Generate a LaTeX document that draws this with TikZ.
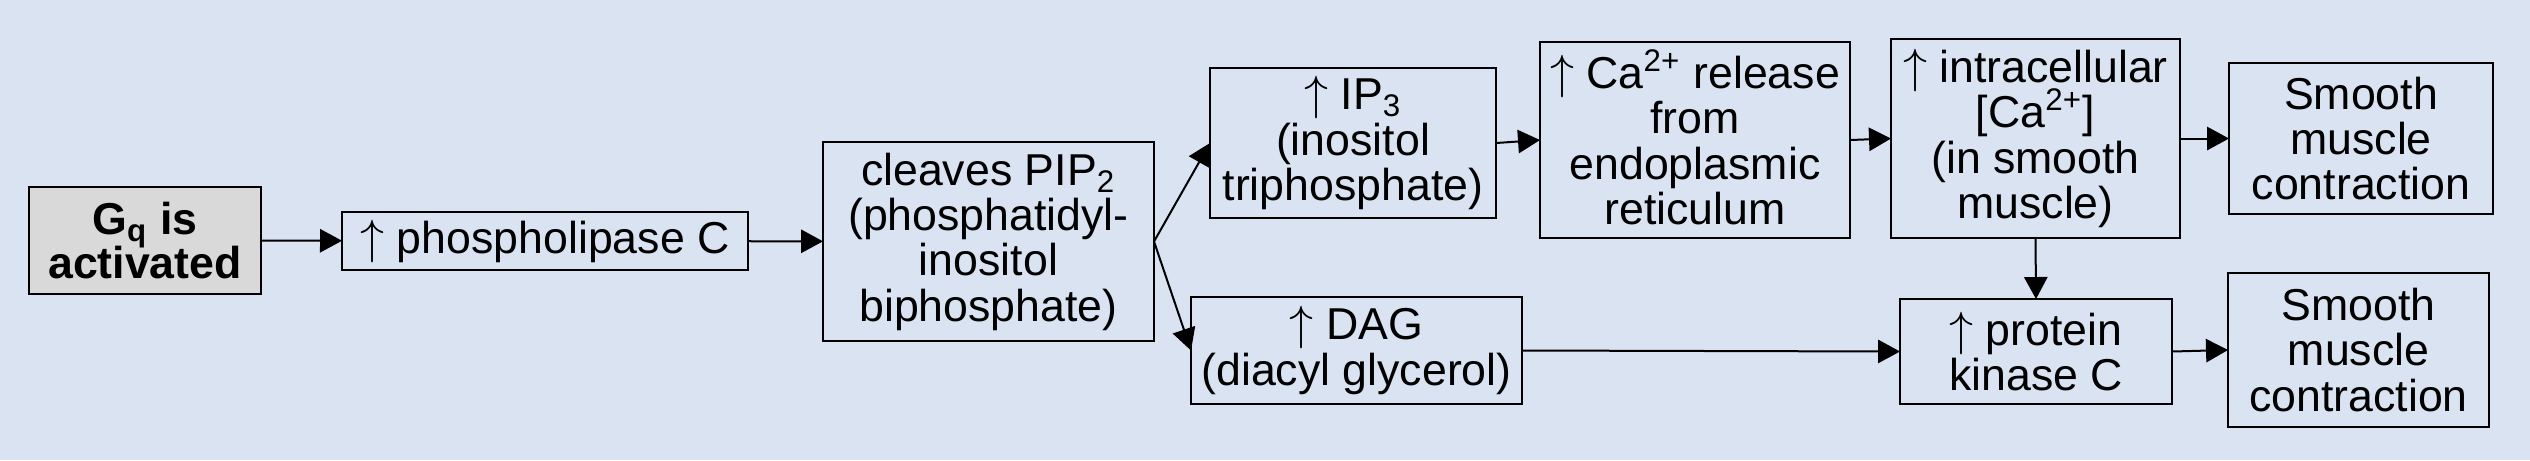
\documentclass[tikz,border=0pt]{standalone}
\usepackage{fontspec}
\setmainfont{Liberation Sans}
\usetikzlibrary{arrows.meta}
\definecolor{bg}{HTML}{D9E3F1}
\definecolor{gqfill}{HTML}{D9D9D9}
\newcommand\upar{$\uparrow$}
\newcommand\supr[1]{\smash{\textsuperscript{#1}}}
\newcommand\subr[1]{\smash{\textsubscript{#1}}}
\begin{document}
\begin{tikzpicture}[x=0.3pt,y=-0.3pt,
  box/.style={draw=black, line width=0.8pt, inner sep=0pt, outer sep=0pt, align=center,
    font=\fontsize{13.4pt}{13.6pt}\selectfont},
  conn/.style={line width=0.6pt, -{Triangle[length=6.6pt,width=7pt]}}]
\fill[bg] (0,0) rectangle (2530,460);
\useasboundingbox (0,0) rectangle (2530,460);
\node[box, fill=gqfill, minimum width=69.6pt, minimum height=32.1pt,
  font=\bfseries\fontsize{13.4pt}{13.2pt}\selectfont] (gq) at (145,240.5) {G\subr{q} is\\activated};
\node[box, minimum width=121.8pt, minimum height=17.4pt] (plc) at (545,241) {\upar{} phospholipase C};
\node[box, minimum width=99.3pt, minimum height=59.7pt] (pip) at (988.5,241.5)
  {cleaves PIP\subr{2}\\(phosphatidyl-\\inositol\\biphosphate)};
\node[box, minimum width=85.8pt, minimum height=45pt] (ip3) at (1353,143)
  {\upar{} IP\subr{3}\\(inositol\\triphosphate)};
\node[box, minimum width=99.3pt, minimum height=32.1pt] (dag) at (1356.5,350.5)
  {\upar{} DAG\\(diacyl glycerol)};
\node[box, minimum width=93pt, minimum height=58.8pt] (ca) at (1695,140)
  {\upar{} Ca\supr{2+} release\\from\\endoplasmic\\reticulum};
\node[box, minimum width=86.7pt, minimum height=59.7pt] (intra) at (2035.5,138.5)
  {\upar{} intracellular\\{[}Ca\supr{2+}{]}\\(in smooth\\muscle)};
\node[box, minimum width=79.2pt, minimum height=45.3pt] (sm1) at (2361,138.5)
  {Smooth\\muscle\\contraction};
\node[box, minimum width=81.6pt, minimum height=31.5pt] (pkc) at (2036,351.5)
  {\upar{} protein\\kinase C};
\node[box, minimum width=78.3pt, minimum height=46.2pt] (sm2) at (2358.5,350)
  {Smooth\\muscle\\contraction};
\draw[conn] (gq) -- (plc);
\draw[conn] (plc) -- (pip);
\draw[conn] (pip.east) -- (ip3.west);
\draw[conn] (pip.east) -- (dag.west);
\draw[conn] (ip3.east) -- (ca.west);
\draw[conn] (ca.east) -- (intra.west);
\draw[conn] (intra.east) -- (sm1.west);
\draw[conn] (intra.south) -- (pkc.north);
\draw[conn] (dag.east) -- (pkc.west);
\draw[conn] (pkc.east) -- (sm2.west);
\end{tikzpicture}
\end{document}
